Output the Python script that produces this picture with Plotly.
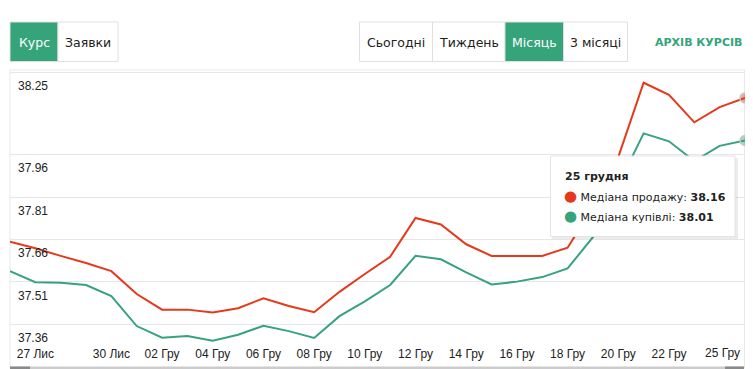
import plotly.graph_objects as go
import pandas as pd

# ---------------- data ----------------
dates = pd.date_range("2023-11-26", "2023-12-25", freq="D").strftime("%Y-%m-%d").tolist()

sell_median = [37.652, 37.629, 37.602, 37.577, 37.548, 37.467, 37.412, 37.412, 37.402, 37.417,
               37.452, 37.425, 37.403, 37.475, 37.538, 37.599, 37.736, 37.713, 37.643, 37.602,
               37.602, 37.602, 37.631, 37.774, 37.951, 38.214, 38.171, 38.074, 38.128, 38.16]

buy_median = [37.548, 37.509, 37.507, 37.499, 37.460, 37.354, 37.313, 37.319, 37.302, 37.323,
              37.355, 37.336, 37.312, 37.389, 37.441, 37.499, 37.602, 37.590, 37.544, 37.501,
              37.511, 37.527, 37.558, 37.668, 37.852, 38.035, 38.007, 37.937, 37.991, 38.01]

y_tick_values = [37.36, 37.51, 37.66, 37.81, 37.96, 38.25]
y_tick_labels = ["37.36", "37.51", "37.66", "37.81", "37.96", "38.25"]

x_tick_dates = ["2023-11-27", "2023-11-30", "2023-12-02", "2023-12-04", "2023-12-06",
                "2023-12-08", "2023-12-10", "2023-12-12", "2023-12-14", "2023-12-16",
                "2023-12-18", "2023-12-20", "2023-12-22", "2023-12-25"]
x_tick_labels = ["27 Лис", "30 Лис", "02 Гру", "04 Гру", "06 Гру", "08 Гру", "10 Гру",
                 "12 Гру", "14 Гру", "16 Гру", "18 Гру", "20 Гру", "22 Гру", "25 Гру"]

series_names = ["Медіана продажу", "Медіана купівлі"]
tooltip_title = "25 грудня"
left_buttons = ["Курс", "Заявки"]
period_buttons = ["Сьогодні", "Тиждень", "Місяць", "3 місяці"]
archive_link = "АРХІВ КУРСІВ"

# ---------------- style ----------------
RED = "#e5391c"
GREEN = "#36a47a"
OFF = 8                      # default page body margin
W, H = 753 - OFF, 369 - OFF  # figure size
ML, MR, MT, MB = 2, 8, 62, 24
PW, PH = W - ML - MR, H - MT - MB
FONT = "Liberation Sans, Arial, sans-serif"
BFONT = "DejaVu Sans, Verdana, sans-serif"


def px(x):
    """page pixel x -> paper coordinate"""
    return (x - OFF - ML) / PW


def py(y):
    """page pixel y -> paper coordinate"""
    return (H - MB - (y - OFF)) / PH


# last label is drawn right-aligned inside the chart (as in the original)
ticktext = list(x_tick_labels)
ticktext[-1] = ""

fig = go.Figure()
fig.add_trace(go.Scatter(x=dates, y=sell_median, mode="lines", name=series_names[0],
                         line=dict(color=RED, width=2)))
fig.add_trace(go.Scatter(x=dates, y=buy_median, mode="lines", name=series_names[1],
                         line=dict(color=GREEN, width=2)))
# hover markers at the last point
fig.add_trace(go.Scatter(x=[dates[-1], dates[-1]], y=[sell_median[-1], buy_median[-1]],
                         mode="markers", cliponaxis=True,
                         marker=dict(size=10, color=["rgba(229,57,28,0.45)", "rgba(54,164,122,0.45)"],
                                     line=dict(color="#c8c8c8", width=1.5))))

shapes = []
annotations = []

# chart frame
shapes.append(dict(type="rect", xref="paper", yref="paper", x0=px(10), x1=px(744.5),
                   y0=py(368), y1=py(70), line=dict(color="#e8e8e8", width=1), layer="below"))
# bottom scroll bar
shapes.append(dict(type="rect", xref="paper", yref="paper", x0=px(10), x1=px(744),
                   y0=py(369.5), y1=py(366.5), fillcolor="#cccccc", line=dict(width=0)))
shapes.append(dict(type="rect", xref="paper", yref="paper", x0=px(10), x1=px(30),
                   y0=py(369.5), y1=py(366.5), fillcolor="#8a8a8a", line=dict(width=0)))
shapes.append(dict(type="rect", xref="paper", yref="paper", x0=px(725), x1=px(744),
                   y0=py(369.5), y1=py(366.5), fillcolor="#8a8a8a", line=dict(width=0)))


def button(x0, x1, label, active):
    shapes.append(dict(type="rect", xref="paper", yref="paper", x0=px(x0), x1=px(x1),
                       y0=py(61.5), y1=py(22), fillcolor=GREEN if active else "white",
                       line=dict(color="#e0e0e0", width=1)))
    annotations.append(dict(xref="paper", yref="paper", x=px((x0 + x1) / 2), y=py(42),
                            text=label, showarrow=False, xanchor="center", yanchor="middle",
                            font=dict(family=BFONT, size=12.5, color="white" if active else "#222")))


button(10, 58, left_buttons[0], True)
button(58, 118, left_buttons[1], False)
bx = [359.5, 432.5, 505, 563.5, 627.5]
for i, lab in enumerate(period_buttons):
    button(bx[i], bx[i + 1], lab, i == 2)

annotations.append(dict(xref="paper", yref="paper", x=px(744), y=py(42), text="<b>" + archive_link + "</b>",
                        showarrow=False, xanchor="right", yanchor="middle",
                        font=dict(family=BFONT, size=11, color=GREEN)))

# last x-axis label, right-aligned at the last tick
annotations.append(dict(xref="x", yref="paper", x=x_tick_dates[-1], y=py(353), xshift=-3,
                        text=x_tick_labels[-1], showarrow=False, xanchor="right", yanchor="middle",
                        font=dict(family=FONT, size=12, color="#222")))

# tooltip box
shapes.append(dict(type="rect", xref="paper", yref="paper", x0=px(552), x1=px(738),
                   y0=py(239), y1=py(158), fillcolor="rgba(0,0,0,0.08)", line=dict(width=0)))
shapes.append(dict(type="rect", xref="paper", yref="paper", x0=px(550.5), x1=px(735),
                   y0=py(236.5), y1=py(156), fillcolor="white", line=dict(color="#e4e4e4", width=1)))
annotations.append(dict(xref="paper", yref="paper", x=px(563), y=py(176), text="<b>" + tooltip_title + "</b>",
                        showarrow=False, xanchor="left", yanchor="middle",
                        font=dict(family=BFONT, size=11, color="#222")))
for k, (nm, vals, col) in enumerate([(series_names[0], sell_median, RED), (series_names[1], buy_median, GREEN)]):
    annotations.append(dict(xref="paper", yref="paper", x=px(562), y=py(196 + 20 * k),
                            text=f'<span style="color:{col};font-size:15px">●</span> {nm}: <b>{vals[-1]:.2f}</b>',
                            showarrow=False, xanchor="left", yanchor="middle",
                            font=dict(family=BFONT, size=11, color="#222")))

fig.update_layout(
    width=W, height=H,
    margin=dict(l=ML, r=MR, t=MT, b=MB, pad=0, autoexpand=False),
    paper_bgcolor="white", plot_bgcolor="white",
    showlegend=False,
    shapes=shapes, annotations=annotations,
    xaxis=dict(type="date", range=[dates[0], dates[-1]], tickvals=x_tick_dates, ticktext=ticktext,
               showgrid=False, zeroline=False, showline=False, ticks="", automargin=False,
               ticklabeloverflow="allow",
               tickfont=dict(family=FONT, size=12, color="#222"), tickangle=0,
               ticklabelstandoff=0),
    yaxis=dict(range=[37.287, 38.259], tickvals=y_tick_values, ticktext=y_tick_labels,
               showgrid=True, gridcolor="#e6e6e6", gridwidth=1, zeroline=False, showline=False,
               ticks="", ticklabelposition="inside bottom", ticklabelstandoff=5, ticklabelshift=5,
               automargin=False, ticklabeloverflow="allow",
               tickfont=dict(family=FONT, size=12, color="#222")),
)

fig.write_html("out.html")
